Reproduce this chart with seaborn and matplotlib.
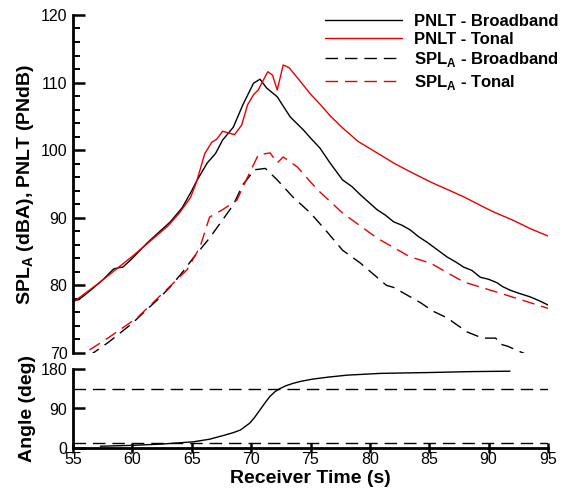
import matplotlib
matplotlib.use('Agg')
import matplotlib.pyplot as plt
from matplotlib.ticker import MultipleLocator
import seaborn as sns

# ---------------- data ----------------
t_pnlt_bb = [55, 55.5, 56.5, 57.5, 58.4, 58.8, 59.2, 60, 61.2, 62.2, 63.2, 64.2, 65.0, 65.4,
             66.3, 67.0, 67.6, 68.5, 69.3, 70.2, 70.75, 71.3, 72.2, 72.6, 73.3, 74.4, 75.0,
             75.8, 76.65, 77.7, 78.5, 79.2, 80.6, 81.3, 82.0, 82.7, 83.4, 84.1, 84.8, 85.5,
             86.5, 87.2, 87.9, 88.6, 89.3, 90.0, 90.7, 91.2, 91.8, 92.6, 93.5, 94.3, 95.0]
pnlt_bb = [77.7, 77.9, 79.3, 80.8, 82.4, 82.6, 82.7, 84.0, 86.2, 87.8, 89.4, 91.5, 94.0, 95.4,
           98.1, 99.5, 101.5, 103.4, 106.7, 109.9, 110.5, 109.2, 107.9, 106.8, 104.9, 103.0, 101.8,
           100.3, 98.1, 95.6, 94.6, 93.4, 91.2, 90.4, 89.4, 88.9, 88.2, 87.2, 86.4, 85.5,
           84.2, 83.5, 82.7, 82.2, 81.2, 80.9, 80.4, 79.8, 79.3, 78.8, 78.3, 77.7, 77.1]

t_pnlt_tn = [55, 56, 57, 58, 59, 60, 61, 62, 63, 64, 64.9, 65.4, 66.1, 66.7, 67.1, 67.6, 68.6,
             69.2, 69.7, 70.2, 70.6, 71.1, 71.4, 71.8, 72.2, 72.7, 73.2, 73.9, 75.0, 75.8, 76.7,
             77.7, 79.0, 80.6, 82.0, 83.4, 85.1, 86.5, 87.9, 89.9, 90.5, 92.1, 93.5, 95.0]
pnlt_tn = [77.5, 78.8, 80.1, 81.5, 82.9, 84.3, 85.8, 87.3, 88.8, 90.8, 93.0, 95.3, 99.5, 101.2,
           101.6, 102.8, 102.3, 103.7, 106.7, 108.2, 108.9, 110.6, 111.6, 111.1, 108.9, 112.6,
           112.2, 110.7, 108.3, 106.8, 105.0, 103.3, 101.3, 99.6, 98.1, 96.8, 95.3, 94.2, 93.1,
           91.3, 90.8, 89.6, 88.4, 87.3]

t_spl_bb = [55, 56.7, 58.0, 59.0, 60.0, 61.2, 62.2, 63.2, 64.2, 65.1, 66.5, 67.6, 68.5, 69.3,
            70.3, 71.2, 72.2, 73.5, 75.0, 76.4, 77.7, 79.2, 80.6, 81.4, 82.0, 83.4, 84.3, 85.3,
            86.5, 87.3, 88.2, 89.2, 89.7, 90.6, 91.0, 91.6, 92.9, 95.0]
spl_bb = [67.8, 70.0, 71.6, 73.0, 74.4, 76.4, 78.0, 79.8, 81.9, 84.0, 87.0, 89.7, 91.9, 94.9,
          97.1, 97.3, 95.6, 93.1, 90.7, 87.9, 85.2, 83.3, 81.2, 80.0, 79.7, 78.3, 77.4, 76.2,
          75.2, 74.2, 73.1, 72.4, 72.2, 72.2, 71.3, 71.0, 70.0, 68.6]

t_spl_tn = [55, 56.0, 58.1, 60.4, 62.6, 64.6, 65.7, 66.5, 67.6, 68.8, 69.7, 70.6, 71.6, 72.2,
            72.7, 73.9, 75.0, 75.8, 77.7, 80.6, 83.4, 85.1, 87.9, 90.7, 92.5, 95.0]
spl_tn = [68.9, 70.0, 72.4, 75.2, 78.9, 82.3, 85.7, 90.1, 91.2, 92.6, 96.0, 99.3, 99.6, 98.1,
          99.0, 97.5, 95.3, 93.8, 90.7, 87.0, 84.2, 83.3, 80.5, 79.0, 78.0, 76.6]

t_angle = [57.3, 60.0, 62.5, 65.1, 66.5, 67.6, 68.5, 69.1, 69.9, 70.3, 70.75, 71.2, 71.6, 72.0,
           72.4, 72.9, 73.5, 74.2, 75.2, 76.5, 78.1, 80.9, 85.1, 88.5, 91.8]
angle = [4, 6, 9, 14, 20, 28, 35, 41, 57, 70, 87, 104, 118, 128, 135, 141.5, 147, 152, 157,
         161.5, 166, 170, 172, 174, 175]

angle_limits = [133.5, 12.5]

labels = ['PNLT - Broadband', 'PNLT - Tonal',
          r'SPL$_\mathbf{A}$ - Broadband', r'SPL$_\mathbf{A}$ - Tonal']
x_ticks = [55, 60, 65, 70, 75, 80, 85, 90, 95]
top_yticks = [70, 80, 90, 100, 110, 120]
bottom_yticks = [0, 90, 180]

# ---------------- style ----------------
sns.set_style('ticks')
plt.rcParams['font.family'] = ['Liberation Sans', 'DejaVu Sans']
plt.rcParams['mathtext.fontset'] = 'custom'
plt.rcParams['mathtext.rm'] = 'Liberation Sans'
plt.rcParams['mathtext.bf'] = 'Liberation Sans:bold'
plt.rcParams['lines.scale_dashes'] = False
plt.rcParams['axes.edgecolor'] = 'black'
plt.rcParams['xtick.color'] = 'black'
plt.rcParams['ytick.color'] = 'black'
plt.rcParams['text.color'] = 'black'
plt.rcParams['axes.labelcolor'] = 'black'

RED = '#e60000'
DASH = (0, (9, 5))
LW = 1.0

fig = plt.figure(figsize=(5.63, 4.8905), dpi=100)
W, H = 563, 489
ax1 = fig.add_axes([73 / W, 1 - 353 / H, 475 / W, 338 / H])
ax2 = fig.add_axes([73 / W, 1 - 448 / H, 475 / W, 79 / H])

sns.lineplot(x=t_pnlt_bb, y=pnlt_bb, ax=ax1, color='black', lw=LW, label=labels[0],
             estimator=None, sort=False)
sns.lineplot(x=t_pnlt_tn, y=pnlt_tn, ax=ax1, color=RED, lw=LW, label=labels[1],
             estimator=None, sort=False)
sns.lineplot(x=t_spl_bb, y=spl_bb, ax=ax1, color='black', lw=LW, linestyle=DASH,
             label=labels[2], estimator=None, sort=False)
sns.lineplot(x=t_spl_tn, y=spl_tn, ax=ax1, color=RED, lw=LW, linestyle=DASH,
             label=labels[3], estimator=None, sort=False)

ax1.set_xlim(55, 95)
ax1.set_ylim(70, 120)
ax1.set_yticks(top_yticks)
ax1.yaxis.set_minor_locator(MultipleLocator(2))
for s in ['top', 'right', 'bottom']:
    ax1.spines[s].set_visible(False)
ax1.spines['left'].set_linewidth(2.0)
ax1.tick_params(axis='x', which='both', bottom=False, labelbottom=False)
ax1.tick_params(axis='y', which='major', direction='in', length=8.5, width=1.8,
                labelsize=11.5, pad=4, left=True, color='black')
ax1.tick_params(axis='y', which='minor', direction='in', length=5, width=1.4, left=True,
                color='black')
ax1.set_xlabel('')
ax1.set_ylabel(r'SPL$_\mathbf{A}$ (dBA), PNLT (PNdB)', fontsize=14, fontweight='bold')
ax1.yaxis.set_label_coords(-0.078, 0.5)

handles, labs = ax1.get_legend_handles_labels()
ax1.legend(handles, labs, loc='upper left', bbox_to_anchor=(325 / W, 0.972),
           bbox_transform=fig.transFigure, frameon=False,
           prop={'weight': 'bold', 'size': 12}, handlelength=4.6, handletextpad=0.75,
           labelspacing=0.2, borderpad=0, borderaxespad=0)

# bottom panel
sns.lineplot(x=t_angle, y=angle, ax=ax2, color='black', lw=LW, estimator=None, sort=False)
for lim in angle_limits:
    ax2.axhline(lim, color='black', lw=LW, linestyle=DASH)
ax2.set_xlim(55, 95)
ax2.set_ylim(0, 180)
ax2.set_xticks(x_ticks)
ax2.set_yticks(bottom_yticks)
for s in ['top', 'right']:
    ax2.spines[s].set_visible(False)
for s in ['left', 'bottom']:
    ax2.spines[s].set_linewidth(2.0)
ax2.tick_params(axis='y', direction='in', length=8.5, width=1.8, labelsize=11.5, pad=4,
                left=True, color='black')
ax2.tick_params(axis='x', direction='inout', length=7.5, width=1.8, labelsize=11.5, pad=-1,
                bottom=True, color='black')
ax2.set_ylabel('Angle (deg)', fontsize=14, fontweight='bold')
ax2.yaxis.set_label_coords(-0.078, 0.5)
ax2.set_xlabel('Receiver Time (s)', fontsize=14, fontweight='bold', labelpad=2)

fig.savefig('out.png', dpi=100)
